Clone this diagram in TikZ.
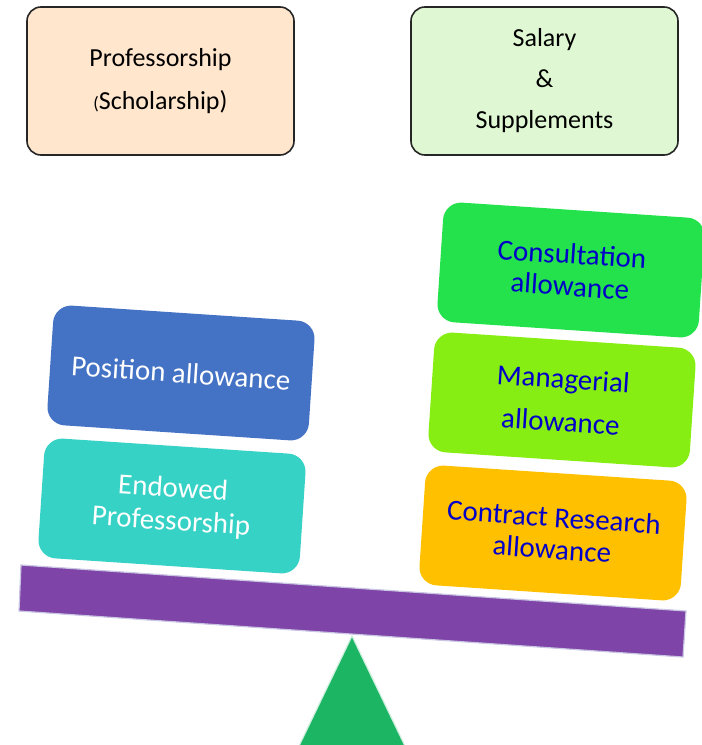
\documentclass[tikz,border=0pt]{standalone}
\usepackage{fontspec}
\setmainfont{Carlito}
\definecolor{peach}{HTML}{FFE6CC}
\definecolor{palegreen}{HTML}{DFF8D3}
\definecolor{posblue}{HTML}{4472C4}
\definecolor{endteal}{HTML}{35D2C5}
\definecolor{consgreen}{HTML}{23E24B}
\definecolor{mangreen}{HTML}{86EE12}
\definecolor{contrgold}{HTML}{FFC000}
\definecolor{deepblue}{HTML}{0000C8}
\definecolor{beampurple}{HTML}{7F44A7}
\definecolor{beamedge}{HTML}{C9C6E4}
\definecolor{trigreen}{HTML}{1CB563}
\definecolor{triedge}{HTML}{CDEFDD}
\begin{document}
\begin{tikzpicture}[x=1pt,y=-1pt]
\useasboundingbox (0,0) rectangle (702,745);
\tikzset{
  topbox/.style={draw=black!85, line width=1.6pt, rounded corners=14pt,
    minimum width=267pt, minimum height=148pt, inner sep=0pt, align=center},
  weightbox/.style={rounded corners=18pt, minimum width=262pt, minimum height=120pt,
    inner sep=0pt, align=center, rotate=-3.8},
  whitetext/.style={text=white},
  bluetext/.style={text=deepblue},
}
% top labels
\node[topbox, fill=peach, font=\fontsize{26}{43}\selectfont] (prof) at (160.5,81)
  {Professorship\\{\fontsize{18}{43}\selectfont(}Scholarship)};
\node[topbox, fill=palegreen, font=\fontsize{26}{41}\selectfont] (salary) at (544.5,81)
  {Salary\\\&\\Supplements};
% beam
\draw[fill=beampurple, draw=beamedge, line width=1.2pt]
  (21,565) -- (686,611) -- (683,657) -- (19,611) -- cycle;
% fulcrum
\draw[fill=trigreen, draw=triedge, line width=1.2pt]
  (352,636) -- (405,746) -- (299,746) -- cycle;
% left weights
\node[weightbox, fill=posblue, whitetext, font=\fontsize{29}{33}\selectfont] (pos) at (181,373)
  {Position allowance};
\node[weightbox, fill=endteal, whitetext, font=\fontsize{29}{33}\selectfont] (endow) at (172,506)
  {Endowed\\Professorship};
% right weights
\node[weightbox, fill=consgreen, bluetext, font=\fontsize{29}{32}\selectfont] (cons) at (571,270)
  {Consultation\\allowance};
\node[weightbox, fill=mangreen, bluetext, font=\fontsize{29}{43}\selectfont] (man) at (562,400)
  {Managerial\\allowance};
\node[weightbox, fill=contrgold, bluetext, font=\fontsize{29}{32}\selectfont] (contr) at (553,533)
  {Contract Research\\allowance};
\end{tikzpicture}
\end{document}
